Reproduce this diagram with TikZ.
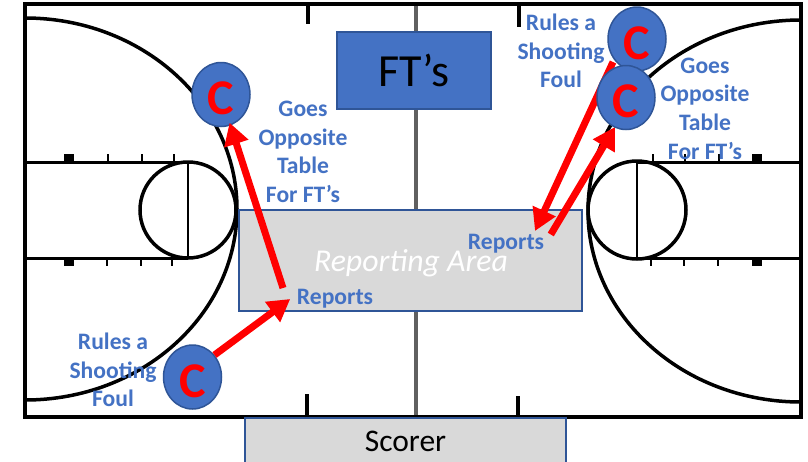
\documentclass[tikz,border=0pt]{standalone}
\usepackage{fontspec}
\setmainfont{Carlito}
\usetikzlibrary{arrows.meta,positioning,shapes.geometric}
\definecolor{boxblue}{HTML}{4472C4}
\definecolor{boxedge}{HTML}{2F5597}
\definecolor{areagray}{HTML}{D9D9D9}
\definecolor{midgray}{HTML}{606060}

\begin{document}
\begin{tikzpicture}[x=1pt,y=-1pt]

\tikzstyle{courtline}=[draw=black,line width=3pt]
\tikzstyle{hash}=[draw=black,line width=2pt]
\tikzstyle{ref}=[ellipse,draw=boxedge,line width=1.5pt,fill=boxblue,text=red,inner sep=0pt,minimum width=58pt,minimum height=64pt,text height=40pt,text depth=0pt,font=\fontsize{50}{50}\selectfont\bfseries]
\tikzstyle{note}=[text=boxblue,align=center,inner sep=0pt,font=\fontsize{23.6}{28.6}\selectfont\bfseries]
\tikzstyle{report}=[text=boxblue,inner sep=6.5pt,font=\fontsize{23.6}{24}\selectfont\bfseries]
\tikzstyle{move}=[draw=red,line width=7pt,-{Triangle[length=22pt,width=24pt]}]

\clip (0,0) rectangle (808,461);
\fill [white] (0,0) rectangle (808,461);

\draw [midgray,line width=4pt] (415.5,4) -- (415.5,417);

\draw [courtline] (25,162) -- (188,162) (637,162) -- (801,162);
\draw [courtline] (25,258) -- (188,258) (637,258) -- (801,258);
\draw [courtline,line width=3.5pt] (188,210) circle (48);
\draw [courtline,line width=3.5pt] (637,210) circle (49);
\draw [hash] (188,162) -- (188,258) (637,162) -- (637,258);
\draw [courtline,line width=3.5pt] (25,18) arc [start angle=-90,end angle=90,x radius=212,y radius=191];
\draw [courtline,line width=3.5pt] (801,20) arc [start angle=-90,end angle=-270,x radius=213,y radius=191];

\foreach \x in {108,142,174,653,685,719} \draw [hash] (\x,154) -- (\x,162);
\foreach \x in {107,141,172,651,684,718} \draw [hash] (\x,258) -- (\x,266);
\foreach \x in {64,752} {
  \fill (\x,154) rectangle ++(9.5,8);
  \fill (\x,258) rectangle ++(9.5,8);
}
\draw [draw=black,line width=3.5pt] (308,4) -- (308,24) (519,4) -- (519,27);
\draw [draw=black,line width=3.5pt] (307,394) -- (307,417) (518,396) -- (518,417);
\draw [draw=black,line width=4pt] (25,4) rectangle (801,417);

\node [draw=boxedge,line width=1.5pt,fill=boxblue,minimum width=154pt,minimum height=77pt,inner sep=0pt,font=\fontsize{46}{46}\selectfont] (fts) at (414,70.5) {FT’s};
\node [draw=boxedge,line width=1.5pt,fill=areagray,minimum width=343pt,minimum height=101pt,inner sep=0pt] (area) at (410.5,260.5) {};
\node [text=white,inner sep=0pt,font=\fontsize{31.8}{31.8}\selectfont\itshape] (arealabel) at (411,263) {Reporting Area};
\node [draw=boxedge,line width=1.5pt,fill=areagray,minimum width=321pt,minimum height=46pt,inner sep=0pt,font=\fontsize{31.5}{31.5}\selectfont] (scorer) at (405.5,441) {Scorer};

\node [report] (reportsL) at (335,299) {Reports};
\node [report] (reportsR) at (506,244) {Reports};

\coordinate (leftstart) at (283,288);
\coordinate (rightstart) at (613,62);
\coordinate (righttip) at (535,231);

\node [ref] (callerLa) at (221,94.5) {C};
\node [ref] (callerLb) at (192.5,377) {C};

\draw [move] (callerLb.45) -- (reportsL.west);
\draw [move,shorten >=-3pt] (leftstart) -- (callerLa.-73);
\draw [move] (rightstart) -- (righttip);
\draw [move] (reportsR.12) -- (615,127);

\node [ref] (callerRa) at (637,39) {C};
\node [ref] (callerRb) at (626,97.5) {C};

\node [note] (goesL) at (303,152) {Goes\\Opposite\\Table\\For FT’s};
\node [note] (goesR) at (705,108.5) {Goes\\Opposite\\Table\\For FT’s};
\node [note] (rulesL) at (113,370) {Rules a\\Shooting\\Foul};
\node [note] (rulesR) at (561,51) {Rules a\\Shooting\\Foul};

\end{tikzpicture}
\end{document}
